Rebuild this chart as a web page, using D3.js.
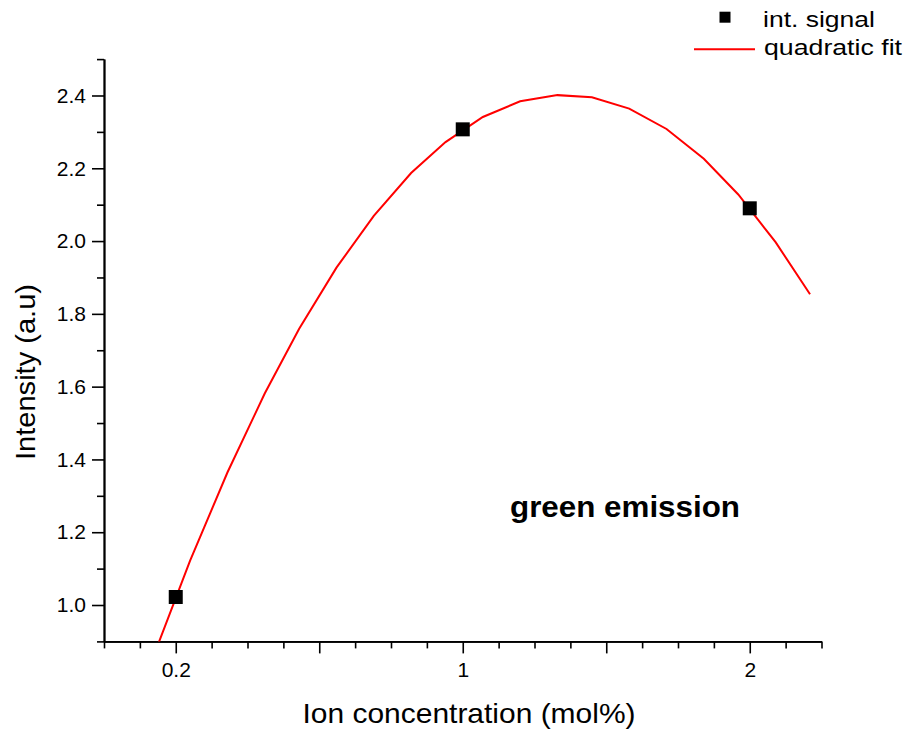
<!DOCTYPE html>
<html>
<head>
<meta charset="utf-8">
<script src="https://cdn.jsdelivr.net/npm/d3@7"></script>
<style>
  html, body { margin: 0; padding: 0; background: #fff; }
  svg { display: block; font-family: "Liberation Sans", Arial, sans-serif; }
</style>
</head>
<body>
<svg id="chart" width="906" height="731"></svg>
<script>
// Concentration categories, placed at evenly spaced positions 1, 2, 3
const categories = ["0.2", "1", "2"];
const positions = [1, 2, 3];

// Measured integrated signal
const signal = [1.022, 2.307, 2.09];

// Quadratic fit curve, sampled along the axis positions
const fitPos = [0.92, 1.05, 1.18, 1.31, 1.43, 1.56, 1.69, 1.82, 1.94, 2.07,
                2.20, 2.33, 2.45, 2.58, 2.71, 2.84, 2.96, 3.09, 3.21];
const fitVal = [0.854, 1.122, 1.364, 1.581, 1.759, 1.927, 2.069, 2.187, 2.272, 2.341,
                2.384, 2.401, 2.395, 2.364, 2.308, 2.226, 2.128, 1.997, 1.854];

// Axis ticks
const yMajor = [1.0, 1.2, 1.4, 1.6, 1.8, 2.0, 2.2, 2.4];
const xMajor = [1, 1.5, 2, 2.5, 3];

const svg = d3.select("#chart");
const pLeft = 104, pRight = 821.5, pTop = 59.1, pBottom = 641.4;

const x = d3.scaleLinear().domain([0.75, 3.25]).range([pLeft, pRight]);
const y = d3.scaleLinear().domain([0.9, 2.5]).range([pBottom, pTop]);

const xLabel = v => {
  const i = positions.indexOf(v);
  return i >= 0 ? categories[i] : "";
};

// minor ticks
const yMinor = d3.range(0.9, 2.51, 0.1).filter(v => !yMajor.some(m => Math.abs(m - v) < 1e-6));
const xMinor = d3.range(0.75, 3.2501, 0.125).filter(v => !xMajor.some(m => Math.abs(m - v) < 1e-6));

const axisStyle = g => {
  g.selectAll("path, line").attr("stroke", "#000").attr("stroke-width", 1.6);
  g.select(".domain").attr("stroke-width", 1.8);
};

// x axis
svg.append("g")
  .attr("transform", `translate(0,${pBottom})`)
  .call(d3.axisBottom(x).tickValues(xMinor).tickSize(7).tickSizeOuter(0).tickFormat(""))
  .call(axisStyle);
const gx = svg.append("g")
  .attr("transform", `translate(0,${pBottom})`)
  .call(d3.axisBottom(x).tickValues(xMajor).tickSize(12).tickSizeOuter(0).tickPadding(9).tickFormat(xLabel))
  .call(axisStyle);
gx.selectAll("text").attr("font-size", 21).attr("fill", "#000")
  .attr("font-family", "Liberation Sans, Arial, sans-serif");

// y axis
svg.append("g")
  .attr("transform", `translate(${pLeft},0)`)
  .call(d3.axisLeft(y).tickValues(yMinor).tickSize(7).tickSizeOuter(0).tickFormat(""))
  .call(axisStyle);
const gy = svg.append("g")
  .attr("transform", `translate(${pLeft},0)`)
  .call(d3.axisLeft(y).tickValues(yMajor).tickSize(12).tickSizeOuter(0).tickPadding(6).tickFormat(d3.format(".1f")))
  .call(axisStyle);
gy.selectAll("text").attr("font-size", 21).attr("fill", "#000")
  .attr("font-family", "Liberation Sans, Arial, sans-serif");

// axis titles
svg.append("text")
  .attr("x", 469).attr("y", 723)
  .attr("text-anchor", "middle").attr("font-size", 28).attr("fill", "#000")
  .attr("textLength", 333).attr("lengthAdjust", "spacingAndGlyphs")
  .text("Ion concentration (mol%)");
svg.append("text")
  .attr("transform", `translate(35,372) rotate(-90)`)
  .attr("text-anchor", "middle").attr("font-size", 28).attr("fill", "#000")
  .attr("textLength", 176).attr("lengthAdjust", "spacingAndGlyphs")
  .text("Intensity (a.u)");

// plot clip
svg.append("clipPath").attr("id", "plotClip")
  .append("rect").attr("x", pLeft).attr("y", pTop - 20).attr("width", pRight - pLeft + 20).attr("height", pBottom - pTop + 20);

// fit curve
const fitData = fitPos.map((p, i) => [p, fitVal[i]]);
svg.append("path")
  .datum(fitData)
  .attr("clip-path", "url(#plotClip)")
  .attr("fill", "none").attr("stroke", "#ff0000").attr("stroke-width", 2)
  .attr("d", d3.line().x(d => x(d[0])).y(d => y(d[1])));

// data markers
const sz = 14;
svg.selectAll("rect.pt")
  .data(positions.map((p, i) => [p, signal[i]]))
  .join("rect").attr("class", "pt")
  .attr("x", d => x(d[0]) - sz / 2).attr("y", d => y(d[1]) - sz / 2)
  .attr("width", sz).attr("height", sz).attr("fill", "#000");

// annotation
svg.append("text")
  .attr("x", 625).attr("y", 517)
  .attr("text-anchor", "middle").attr("font-size", 29).attr("font-weight", "bold").attr("fill", "#000")
  .attr("textLength", 230).attr("lengthAdjust", "spacingAndGlyphs")
  .text("green emission");

// legend
const lg = svg.append("g");
lg.append("rect").attr("x", 719.5).attr("y", 11.7).attr("width", 11).attr("height", 11).attr("fill", "#000");
lg.append("text").attr("x", 763).attr("y", 26.5).attr("font-size", 22).attr("fill", "#000")
  .attr("textLength", 112).attr("lengthAdjust", "spacingAndGlyphs").text("int. signal");
lg.append("line").attr("x1", 694).attr("x2", 755).attr("y1", 49.3).attr("y2", 49.3)
  .attr("stroke", "#ff0000").attr("stroke-width", 2);
lg.append("text").attr("x", 764).attr("y", 55).attr("font-size", 22).attr("fill", "#000")
  .attr("textLength", 138).attr("lengthAdjust", "spacingAndGlyphs").text("quadratic fit");
</script>
</body>
</html>
